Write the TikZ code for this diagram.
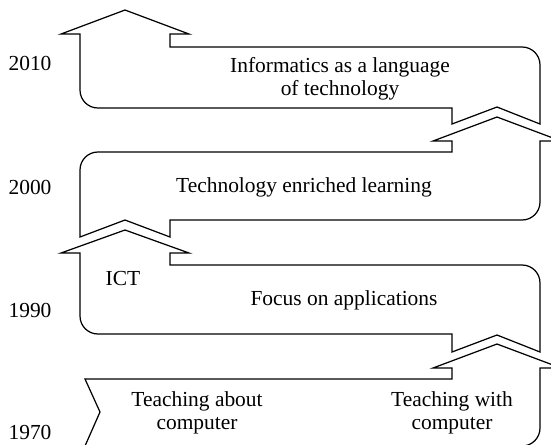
\documentclass[tikz,border=0pt]{standalone}
\usepackage{fontspec}
\setmainfont{Liberation Serif}

\begin{document}
\begin{tikzpicture}[x=0.02cm, y=-0.02cm,
    band/.style={draw=black, line width=0.7pt, line join=miter},
    year/.style={font=\fontsize{12.2}{13}\selectfont, inner sep=0pt},
    phase/.style={font=\fontsize{12.2}{13}\selectfont, align=center, inner sep=0pt}]
  \useasboundingbox (0,0) rectangle (551,444);

  % Bands, from 2010 down to 1970
  \draw[band] (125,10) -- (189,34) -- (170,34) -- (170,47) -- (522,47)
    .. controls (532,47) and (540,55) .. (540,65) -- (540,124) -- (497,107)
    -- (452,124) -- (452,108) -- (98,108) .. controls (88,108) and (80,100) .. (80,90)
    -- (80,34) -- (61,34) -- cycle;
  \draw[band] (497,117) -- (561,141) -- (540,141) -- (540,202)
    .. controls (540,212) and (532,220) .. (522,220) -- (170,220) -- (170,237)
    -- (125,220) -- (80,237) -- (80,170) .. controls (80,160) and (88,152) .. (98,152)
    -- (452,152) -- (452,141) -- (433,141) -- cycle;
  \draw[band] (125,230) -- (189,253) -- (170,253) -- (170,265) -- (522,265)
    .. controls (532,265) and (540,273) .. (540,283) -- (540,352) -- (497,335)
    -- (452,352) -- (452,334) -- (98,334) .. controls (88,334) and (80,326) .. (80,316)
    -- (80,253) -- (61,253) -- cycle;
  \draw[band] (497,344) -- (561,368) -- (540,368) -- (540,428)
    .. controls (540,438) and (532,446) .. (522,446) -- (85,446) -- (100,412)
    -- (85,379) -- (452,379) -- (452,368) -- (433,368) -- cycle;

  % Years
  \node[year] (y2010) at (30,63) {2010};
  \node[year] (y2000) at (30,187) {2000};
  \node[year] (y1990) at (30,310) {1990};
  \node[year] (y1970) at (30,432) {1970};

  % Phases
  \node[phase] (informatics) at (340,79) {Informatics as a language\\of technology};
  \node[phase] (enriched) at (304,187) {Technology enriched learning};
  \node[phase] (ict) at (123,278) {ICT};
  \node[phase] (applications) at (344,300) {Focus on applications};
  \node[phase] (about) at (197,413) {Teaching about\\computer};
  \node[phase] (with) at (452,413) {Teaching with\\computer};
\end{tikzpicture}
\end{document}
